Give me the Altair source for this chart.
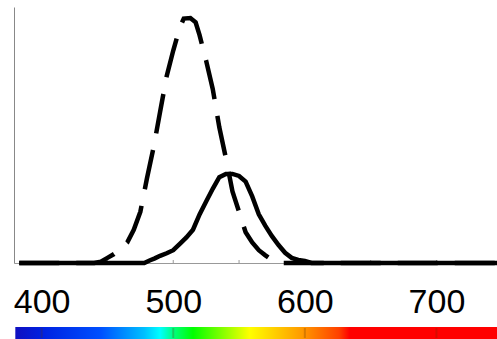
import altair as alt
import pandas as pd

# dashed curve (scotopic-like)
dash_wl = [383, 440, 445, 450, 455, 460, 465, 470, 475, 480, 485, 490, 495, 500, 505,
           508, 513, 517, 520, 525, 530, 535, 540, 545, 550, 555, 560, 565, 570, 575, 580, 746]
dash_v = [0, 0, 0.005, 0.02, 0.035, 0.055, 0.08, 0.13, 0.2, 0.33, 0.45, 0.59, 0.73, 0.83, 0.92,
          0.955, 0.957, 0.94, 0.89, 0.79, 0.68, 0.53, 0.41, 0.28, 0.20, 0.12, 0.08, 0.05, 0.03, 0.012, 0, 0]

# solid curve (photopic-like)
solid_wl = [383, 478, 482, 486, 490, 495, 500, 505, 510, 515, 520, 525, 530, 535, 540, 545, 550,
            555, 560, 565, 570, 575, 580, 585, 590, 595, 600, 605, 746]
solid_v = [0, 0, 0.01, 0.018, 0.028, 0.038, 0.05, 0.075, 0.10, 0.13, 0.19, 0.24, 0.29, 0.335,
           0.348, 0.348, 0.34, 0.318, 0.26, 0.19, 0.145, 0.105, 0.07, 0.04, 0.02, 0.012, 0.008, 0, 0]

tick_labels = [400, 500, 600, 700]
minor_ticks = [450, 500, 550, 600, 650, 700]

# colour bar stops (wavelength, colour)
bar_wl = [380, 400, 445, 478, 490, 500, 515, 558, 598, 626, 634, 746]
bar_col = ["#1010c0", "#0020e0", "#0050ff", "#00c0ff", "#00ffff", "#00ff80", "#00ff00",
           "#ffff00", "#ff9900", "#ff4000", "#ff0000", "#ff0000"]

XMIN, XMAX = 379, 746

dash_df = pd.DataFrame({"wl": dash_wl, "v": dash_v})
solid_df = pd.DataFrame({"wl": solid_wl, "v": solid_v})

xs = alt.Scale(domain=[XMIN, XMAX], nice=False, zero=False)
ys = alt.Scale(domain=[0, 1], nice=False)

xaxis = alt.Axis(values=tick_labels, tickSize=0, labelFontSize=34, labelFont="Liberation Sans",
                 labelColor="black", labelPadding=22, domainColor="#999999", domainWidth=1,
                 grid=False, title=None, format="d")
yaxis = alt.Axis(ticks=False, labels=False, domainColor="#888888", domainWidth=1, grid=False, title=None)

solid = alt.Chart(solid_df).mark_line(color="black", strokeWidth=4.5, strokeCap="butt").encode(
    x=alt.X("wl:Q", scale=xs, axis=xaxis),
    y=alt.Y("v:Q", scale=ys, axis=yaxis),
)
dashed = alt.Chart(dash_df).mark_line(color="black", strokeWidth=4.5, strokeDash=[40, 17],
                                      strokeCap="butt").encode(
    x=alt.X("wl:Q", scale=xs),
    y=alt.Y("v:Q", scale=ys),
)

ticks = alt.Chart(pd.DataFrame({"t": minor_ticks})).mark_rule(color="#999999", strokeWidth=1).encode(
    x=alt.X("t:Q", scale=xs),
    y=alt.value(256),
    y2=alt.value(253),
)

stops = [alt.GradientStop(offset=(w - 380) / (XMAX - 380), color=c) for w, c in zip(bar_wl, bar_col)]
bar = alt.Chart(pd.DataFrame({"a": [380], "b": [XMAX]})).mark_rect(
    color=alt.LinearGradient(gradient="linear", stops=stops, x1=0, x2=1, y1=0, y2=0)
).encode(
    x=alt.X("a:Q", scale=xs),
    x2="b:Q",
    y=alt.value(320),
    y2=alt.value(332),
)

bar_marks = alt.Chart(pd.DataFrame({"t": tick_labels})).mark_rule(
    color="#603000", strokeWidth=2, opacity=0.25).encode(
    x=alt.X("t:Q", scale=xs),
    y=alt.value(321),
    y2=alt.value(331),
)

chart = alt.layer(bar, bar_marks, ticks, solid, dashed).properties(
    width=483, height=256,
    background="white",
    autosize=alt.AutoSizeParams(type="none"),
    padding={"left": 14, "top": 7, "right": 0, "bottom": 76},
).configure_view(strokeWidth=0, stroke="transparent")

chart.save("out.html", embed_options={"renderer": "svg", "actions": False})
